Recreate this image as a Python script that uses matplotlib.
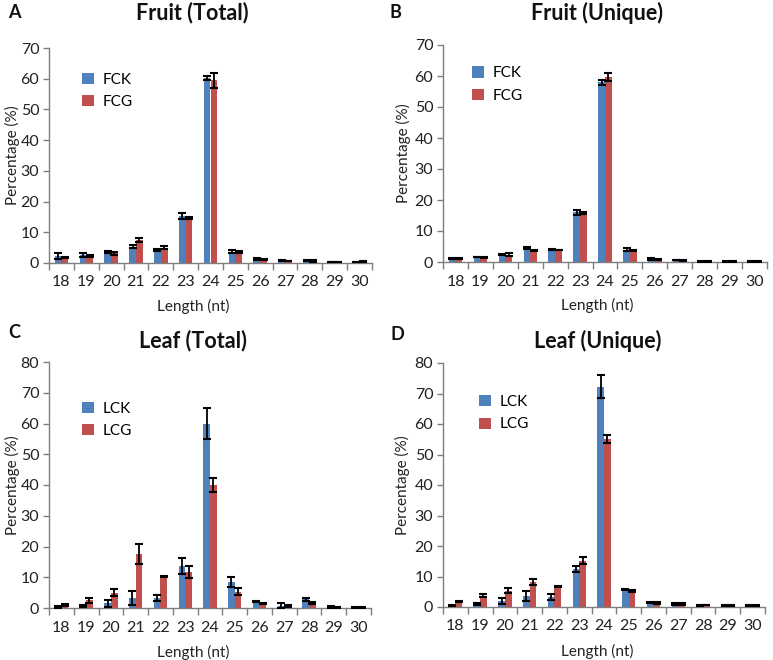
import matplotlib
matplotlib.use("Agg")
import matplotlib.pyplot as plt
import numpy as np
from matplotlib.patches import Patch

plt.rcParams['font.family'] = ['Lato', 'DejaVu Sans']

lengths = [18, 19, 20, 21, 22, 23, 24, 25, 26, 27, 28, 29, 30]

# Panel A: Fruit (Total)
fck_total = [2.2, 2.6, 3.5, 5.3, 4.2, 15.2, 60.2, 3.7, 1.4, 0.8, 0.8, 0.3, 0.3]
fck_total_err = [1.0, 0.6, 0.4, 0.4, 0.2, 1.0, 0.7, 0.6, 0.3, 0.1, 0.1, 0.1, 0.1]
fcg_total = [1.9, 2.3, 3.2, 7.4, 5.0, 14.6, 59.5, 3.6, 1.2, 0.7, 0.6, 0.3, 0.4]
fcg_total_err = [0.2, 0.3, 0.5, 0.7, 0.4, 0.4, 2.5, 0.2, 0.2, 0.1, 0.4, 0.1, 0.1]

# Panel B: Fruit (Unique)
fck_unique = [1.2, 1.6, 2.5, 4.5, 4.0, 16.0, 58.0, 4.0, 1.0, 0.6, 0.2, 0.1, 0.1]
fck_unique_err = [0.1, 0.1, 0.2, 0.2, 0.1, 0.9, 0.8, 0.6, 0.3, 0.1, 0.1, 0.1, 0.1]
fcg_unique = [1.1, 1.5, 2.4, 3.8, 3.9, 15.8, 59.8, 3.7, 0.8, 0.4, 0.1, 0.1, 0.1]
fcg_unique_err = [0.1, 0.1, 0.4, 0.2, 0.1, 0.2, 1.3, 0.2, 0.1, 0.1, 0.1, 0.1, 0.1]

# Panel C: Leaf (Total)
lck_total = [0.3, 0.6, 1.5, 3.3, 3.3, 13.6, 60.0, 8.5, 2.2, 0.8, 2.9, 0.3, 0.1]
lck_total_err = [0.2, 0.3, 1.2, 2.2, 1.0, 2.6, 5.0, 1.6, 0.2, 0.8, 0.5, 0.3, 0.1]
lcg_total = [1.1, 2.5, 5.0, 17.6, 10.2, 11.8, 40.0, 5.3, 1.4, 0.7, 1.6, 0.2, 0.1]
lcg_total_err = [0.3, 0.9, 1.2, 3.2, 0.2, 2.0, 2.2, 1.2, 0.2, 0.3, 0.3, 0.1, 0.1]

# Panel D: Leaf (Unique)
lck_unique = [0.6, 1.0, 2.0, 3.6, 3.2, 12.5, 72.2, 5.8, 1.4, 1.0, 0.5, 0.4, 0.4]
lck_unique_err = [0.2, 0.2, 1.0, 1.5, 1.0, 1.0, 3.8, 0.1, 0.2, 0.2, 0.2, 0.1, 0.1]
lcg_unique = [1.8, 3.7, 5.3, 8.3, 6.8, 15.2, 55.2, 5.2, 1.4, 1.0, 0.7, 0.4, 0.4]
lcg_unique_err = [0.2, 0.4, 0.8, 1.0, 0.2, 1.2, 1.3, 0.3, 0.3, 0.2, 0.1, 0.1, 0.1]

BLUE = '#4F81BD'
RED = '#C0504D'
AXC = '#7f7f7f'

fig = plt.figure(figsize=(7.73, 6.6), dpi=100)
W, H = 773.0, 660.0

def ax_at(l, r, t, b):
    return fig.add_axes([l / W, 1 - b / H, (r - l) / W, (b - t) / H])

panels = [
    dict(box=(49, 372, 48, 263), ymax=70, a=fck_total, ae=fck_total_err, b=fcg_total, be=fcg_total_err,
         la='FCK', lb='FCG', title='Fruit (Total)', tx=192, ty=13, letter='A', lx=8, ly=12,
         xlx=0.447, ylx=20, leg=(0.06, 0.95)),
    dict(box=(443, 767, 45, 262), ymax=70, a=fck_unique, ae=fck_unique_err, b=fcg_unique, be=fcg_unique_err,
         la='FCK', lb='FCG', title='Fruit (Unique)', tx=597, ty=13, letter='B', lx=390, ly=12,
         xlx=0.475, ylx=411, leg=(0.048, 0.965)),
    dict(box=(49, 371, 362, 608), ymax=80, a=lck_total, ae=lck_total_err, b=lcg_total, be=lcg_total_err,
         la='LCK', lb='LCG', title='Leaf (Total)', tx=193, ty=341, letter='C', lx=8, ly=332,
         xlx=0.447, ylx=20, leg=(0.06, 0.895)),
    dict(box=(443, 765, 363, 607), ymax=80, a=lck_unique, ae=lck_unique_err, b=lcg_unique, be=lcg_unique_err,
         la='LCK', lb='LCG', title='Leaf (Unique)', tx=598, ty=341, letter='D', lx=391, ly=334,
         xlx=0.48, ylx=410, leg=(0.07, 0.925)),
]

x = np.array(lengths, dtype=float)
bw = 0.27
for p in panels:
    ax = ax_at(*p['box'])
    ax.bar(x - bw / 2, p['a'], width=bw, color=BLUE, label=p['la'], zorder=2)
    ax.bar(x + bw / 2, p['b'], width=bw, color=RED, label=p['lb'], zorder=2)
    ek = dict(fmt='none', ecolor='black', elinewidth=1.3, capsize=3, capthick=1.5, zorder=3)
    ax.errorbar(x - bw / 2, p['a'], yerr=p['ae'], **ek)
    ax.errorbar(x + bw / 2, p['b'], yerr=p['be'], **ek)
    ax.set_xlim(17.5, 30.5)
    ax.set_ylim(0, p['ymax'])
    ax.set_yticks(np.arange(0, p['ymax'] + 1, 10))
    ax.set_xticks(x)
    ax.set_xticklabels([str(v) for v in lengths])
    ax.set_xticks(np.arange(17.5, 31, 1.0), minor=True)
    ax.tick_params(axis='x', which='major', length=0, pad=9, labelsize=11.5, colors='#222222')
    ax.tick_params(axis='x', which='minor', length=5, direction='out', color=AXC, width=1)
    ax.tick_params(axis='y', which='major', length=4, direction='out', color=AXC, width=1,
                   labelsize=11.5, labelcolor='#222222', pad=3)
    for s in ['top', 'right']:
        ax.spines[s].set_visible(False)
    for s in ['left', 'bottom']:
        ax.spines[s].set_color(AXC)
        ax.spines[s].set_linewidth(1)
    ax.set_xlabel('Length (nt)', fontsize=11, color='#222222')
    ax.xaxis.set_label_coords(p['xlx'], -0.165 if p['ymax'] == 70 else -0.15)
    ax.set_ylabel('Percentage (%)', fontsize=11, color='#222222')
    l, r, t, b = p['box']
    ax.yaxis.set_label_coords((p['ylx'] - l) / (r - l), 0.5)
    handles = [Patch(facecolor=BLUE, label=p['la']), Patch(facecolor=RED, label=p['lb'])]
    ax.legend(handles=handles, loc='upper left', bbox_to_anchor=p['leg'], frameon=False,
              fontsize=11, handlelength=0.75, handleheight=0.75, handletextpad=0.6, labelspacing=0.55)
    fig.text(p['tx'] / W, 1 - p['ty'] / H, p['title'], fontsize=15.5, fontweight='bold',
             ha='center', va='center', color='#111111')
    fig.text(p['lx'] / W, 1 - p['ly'] / H, p['letter'], fontsize=13, fontweight='bold',
             ha='left', va='center', color='#111111')

fig.savefig('out.png', dpi=100)
